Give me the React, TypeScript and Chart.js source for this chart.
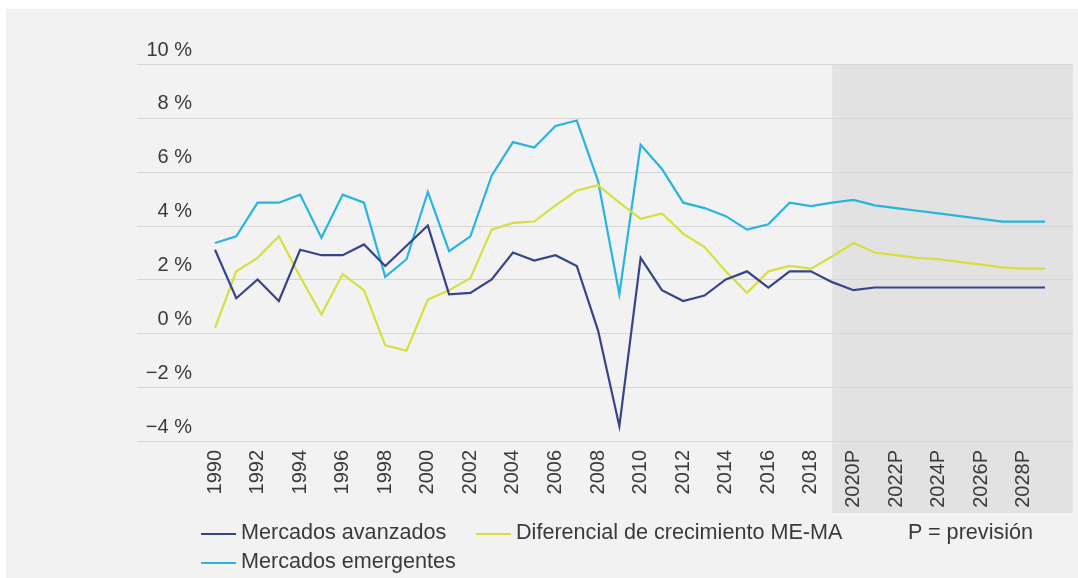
import React, { useEffect, useRef } from 'react';
import { Chart, registerables } from 'chart.js';

Chart.register(...registerables);

const years = [
  '1990', '1991', '1992', '1993', '1994', '1995', '1996', '1997', '1998', '1999',
  '2000', '2001', '2002', '2003', '2004', '2005', '2006', '2007', '2008', '2009',
  '2010', '2011', '2012', '2013', '2014', '2015', '2016', '2017', '2018', '2019',
  '2020', '2021', '2022', '2023', '2024', '2025', '2026', '2027', '2028', '2029',
];

const tickLabels = [
  '1990', '1992', '1994', '1996', '1998', '2000', '2002', '2004', '2006', '2008',
  '2010', '2012', '2014', '2016', '2018', '2020P', '2022P', '2024P', '2026P', '2028P',
];

const avanzados = [
  3.1, 1.3, 2.0, 1.2, 3.1, 2.9, 2.9, 3.3, 2.5, 3.25,
  4.0, 1.45, 1.5, 2.0, 3.0, 2.7, 2.9, 2.5, 0.1, -3.45,
  2.8, 1.6, 1.2, 1.4, 2.0, 2.3, 1.7, 2.3, 2.3, 1.9,
  1.6, 1.7, 1.7, 1.7, 1.7, 1.7, 1.7, 1.7, 1.7, 1.7,
];

const diferencial = [
  0.2, 2.3, 2.8, 3.6, 2.1, 0.7, 2.2, 1.6, -0.45, -0.65,
  1.25, 1.6, 2.05, 3.85, 4.1, 4.15, 4.75, 5.3, 5.5, 4.85,
  4.25, 4.45, 3.7, 3.2, 2.3, 1.5, 2.3, 2.5, 2.4, 2.85,
  3.35, 3.0, 2.9, 2.8, 2.75, 2.65, 2.55, 2.45, 2.4, 2.4,
];

const emergentes = [
  3.35, 3.6, 4.85, 4.85, 5.15, 3.55, 5.15, 4.85, 2.1, 2.75,
  5.25, 3.05, 3.6, 5.85, 7.1, 6.9, 7.7, 7.9, 5.65, 1.45,
  7.0, 6.1, 4.85, 4.65, 4.35, 3.85, 4.05, 4.85, 4.72, 4.85,
  4.95, 4.75, 4.65, 4.55, 4.45, 4.35, 4.25, 4.15, 4.15, 4.15,
];

const seriesNames = ['Mercados avanzados', 'Diferencial de crecimiento ME-MA', 'Mercados emergentes'];
const seriesColors = ['#36458a', '#d6df3e', '#29b4e0'];
const forecastNote = 'P = previsión';
const shadeFromYear = '2019';
const yMin = -4;
const yMax = 10;
const yStep = 2;

const W = 1078;
const H = 578;
const GRID_LEFT = 137;
const GRID_RIGHT = 1073;
const SHADE_BOTTOM = 513;
const TEXT_COLOR = '#3a3a3a';

const backdropPlugin = {
  id: 'backdrop',
  beforeDraw(chart: any) {
    const { ctx, scales } = chart;
    const x = scales.x;
    const y = scales.y;
    ctx.save();
    const sx = x.getPixelForValue(years.indexOf(shadeFromYear));
    const top = y.getPixelForValue(yMax);
    ctx.fillStyle = '#e2e2e2';
    ctx.fillRect(sx, top, GRID_RIGHT - sx, SHADE_BOTTOM - top);
    ctx.strokeStyle = '#d6d6d6';
    ctx.lineWidth = 1;
    y.ticks.forEach((t: any) => {
      const py = Math.round(y.getPixelForValue(t.value)) + 0.5;
      ctx.beginPath();
      ctx.moveTo(GRID_LEFT, py);
      ctx.lineTo(GRID_RIGHT, py);
      ctx.stroke();
    });
    ctx.restore();
  },
};

function LegendItem(props: { left: number; top: number; color?: string; text: string }) {
  const { left, top, color, text } = props;
  return (
    <div
      style={{
        position: 'absolute',
        left,
        top,
        display: 'flex',
        alignItems: 'center',
        height: 26,
        whiteSpace: 'nowrap',
        fontFamily: '"Liberation Sans", Arial, sans-serif',
        fontSize: 21.6,
        color: TEXT_COLOR,
      }}
    >
      {color ? (
        <span style={{ display: 'inline-block', width: 35, height: 2, background: color, marginRight: 5, marginTop: 3 }} />
      ) : null}
      <span>{text}</span>
    </div>
  );
}

export default function App() {
  const ref = useRef<HTMLCanvasElement | null>(null);

  useEffect(() => {
    if (!ref.current) return;
    const seriesData = [avanzados, diferencial, emergentes];
    const chart = new Chart(ref.current, {
      type: 'line',
      data: {
        labels: years,
        datasets: seriesNames.map((name, i) => ({
          label: name,
          data: seriesData[i],
          borderColor: seriesColors[i],
          backgroundColor: seriesColors[i],
          borderWidth: 2.2,
          pointRadius: 0,
          tension: 0,
          fill: false,
        })),
      },
      options: {
        animation: false,
        responsive: false,
        devicePixelRatio: 1,
        layout: { padding: { left: 0, right: 30, top: 64, bottom: 0 } },
        plugins: {
          legend: { display: false },
          tooltip: { enabled: false },
        },
        scales: {
          x: {
            type: 'category',
            offset: false,
            grid: { display: false, drawTicks: false },
            border: { display: false },
            ticks: {
              autoSkip: false,
              minRotation: 90,
              maxRotation: 90,
              padding: 9,
              color: TEXT_COLOR,
              font: { family: '"Liberation Sans", Arial, sans-serif', size: 20 },
              callback: (_v: any, i: number) => {
                const yr = years[i];
                const lab = tickLabels.find((t) => t.replace('P', '') === yr);
                return lab || '';
              },
            },
            afterFit: (scale: any) => {
              scale.height = 137;
            },
          },
          y: {
            min: yMin,
            max: yMax,
            grid: { display: false, drawTicks: false },
            border: { display: false },
            ticks: {
              stepSize: yStep,
              padding: 23,
              labelOffset: -14,
              color: TEXT_COLOR,
              font: { family: '"Liberation Sans", Arial, sans-serif', size: 20 },
              callback: (v: any) => (v < 0 ? '\u2212' + Math.abs(v) : String(v)) + ' %',
            },
            afterFit: (scale: any) => {
              scale.width = 215;
            },
          },
        },
      },
      plugins: [backdropPlugin],
    });
    return () => chart.destroy();
  }, []);

  return (
    <div style={{ position: 'fixed', left: 0, top: 0, width: W, height: H, background: '#ffffff', overflow: 'hidden' }}>
      <div style={{ position: 'absolute', left: 6, top: 9, right: 0, bottom: 0, background: '#f2f2f2' }} />
      <canvas ref={ref} width={W} height={H} style={{ position: 'absolute', left: 0, top: 0, width: W, height: H }} />
      <LegendItem left={201} top={519} color={seriesColors[0]} text={seriesNames[0]} />
      <LegendItem left={476} top={519} color={seriesColors[1]} text={seriesNames[1]} />
      <LegendItem left={908} top={519} text={forecastNote} />
      <LegendItem left={201} top={548} color={seriesColors[2]} text={seriesNames[2]} />
    </div>
  );
}
